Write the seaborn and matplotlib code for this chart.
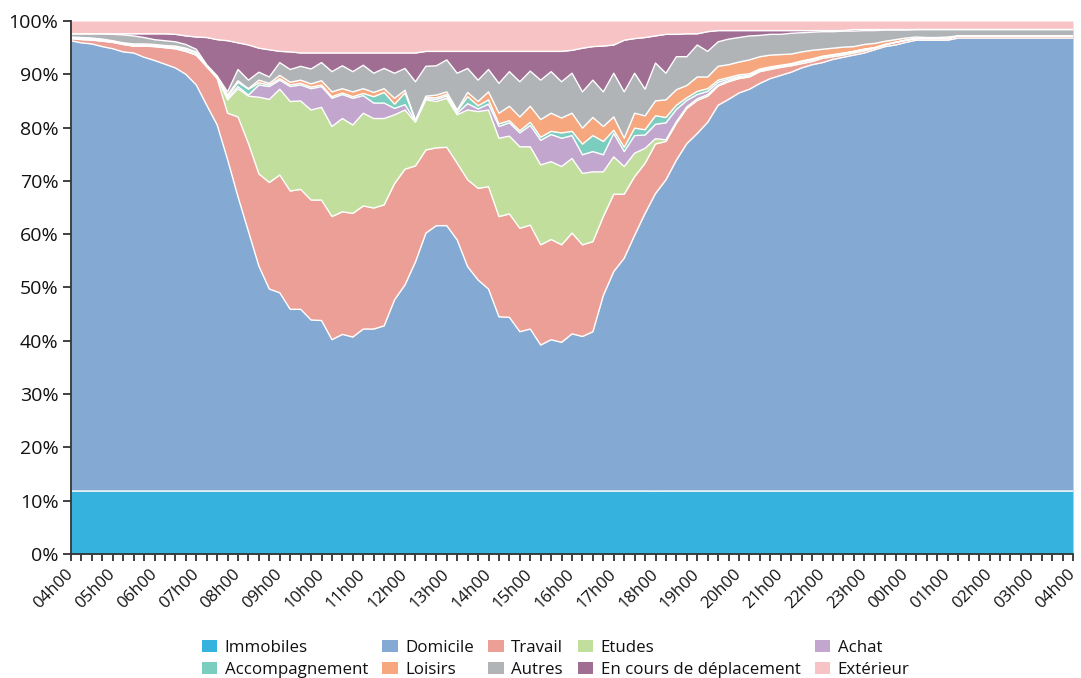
import numpy as np
import pandas as pd
import seaborn as sns
import matplotlib.pyplot as plt
from matplotlib.patches import Patch
from matplotlib.ticker import MultipleLocator

# x axis: one value every 15 minutes, from 04h00 to 04h00 the next day
hour_labels = [
    "04h00", "05h00", "06h00", "07h00", "08h00", "09h00", "10h00", "11h00",
    "12h00", "13h00", "14h00", "15h00", "16h00", "17h00", "18h00", "19h00",
    "20h00", "21h00", "22h00", "23h00", "00h00", "01h00", "02h00", "03h00", "04h00",
]

# shares in %, 97 quarter-hour slots
immobiles = [
    11.8, 11.8, 11.8, 11.8, 11.8, 11.8, 11.8, 11.8, 11.8, 11.8,
    11.8, 11.8, 11.8, 11.8, 11.8, 11.8, 11.8, 11.8, 11.8, 11.8,
    11.8, 11.8, 11.8, 11.8, 11.8, 11.8, 11.8, 11.8, 11.8, 11.8,
    11.8, 11.8, 11.8, 11.8, 11.8, 11.8, 11.8, 11.8, 11.8, 11.8,
    11.8, 11.8, 11.8, 11.8, 11.8, 11.8, 11.8, 11.8, 11.8, 11.8,
    11.8, 11.8, 11.8, 11.8, 11.8, 11.8, 11.8, 11.8, 11.8, 11.8,
    11.8, 11.8, 11.8, 11.8, 11.8, 11.8, 11.8, 11.8, 11.8, 11.8,
    11.8, 11.8, 11.8, 11.8, 11.8, 11.8, 11.8, 11.8, 11.8, 11.8,
    11.8, 11.8, 11.8, 11.8, 11.8, 11.8, 11.8, 11.8, 11.8, 11.8,
    11.8, 11.8, 11.8, 11.8, 11.8, 11.8, 11.8,
]
domicile = [
    84.5, 84.1, 83.9, 83.4, 83.0, 82.4, 82.2, 81.4, 80.8, 80.1,
    79.4, 78.2, 76.2, 72.4, 68.7, 62.2, 55.2, 48.7, 42.2, 37.9,
    37.2, 34.1, 34.1, 32.1, 32.0, 28.4, 29.4, 28.9, 30.4, 30.4,
    31.0, 35.9, 38.7, 43.0, 48.4, 49.8, 49.8, 47.1, 42.1, 39.6,
    37.9, 32.7, 32.6, 29.9, 30.4, 27.4, 28.4, 27.9, 29.5, 29.0,
    29.9, 36.7, 41.2, 43.7, 48.0, 52.1, 55.9, 58.4, 62.1, 65.2,
    67.1, 69.2, 72.4, 73.5, 74.7, 75.4, 76.5, 77.4, 78.0, 78.6,
    79.4, 80.0, 80.4, 81.0, 81.4, 81.8, 82.2, 82.8, 83.4, 83.7,
    84.2, 84.6, 84.6, 84.6, 84.6, 85.0, 85.0, 85.0, 85.0, 85.0,
    85.0, 85.0, 85.0, 85.0, 85.0, 85.0, 85.0,
]
travail = [
    0.4, 0.6, 0.7, 1.0, 1.2, 1.4, 1.3, 2.1, 2.6, 3.1,
    3.6, 4.3, 5.6, 7.2, 8.7, 8.7, 15.0, 16.5, 17.3, 20.0,
    22.1, 22.2, 22.5, 22.5, 22.6, 23.1, 23.0, 23.2, 23.1, 22.7,
    22.7, 21.8, 21.7, 18.0, 15.6, 14.6, 14.7, 14.4, 16.3, 17.2,
    19.2, 18.8, 19.4, 19.4, 19.5, 18.8, 18.8, 18.3, 18.9, 17.2,
    16.9, 14.8, 14.5, 12.0, 11.0, 9.4, 9.3, 7.2, 6.9, 6.6,
    6.2, 4.9, 3.6, 3.3, 2.7, 2.3, 2.2, 1.7, 1.5, 1.2,
    0.8, 0.6, 0.8, 0.5, 0.4, 0.4, 0.4, 0.3, 0.3, 0.5,
    0.4, 0.3, 0.3, 0.3, 0.3, 0.4, 0.4, 0.4, 0.4, 0.4,
    0.4, 0.4, 0.4, 0.4, 0.4, 0.4, 0.4,
]
etudes = [
    0.0, 0.1, 0.1, 0.1, 0.0, 0.0, 0.0, 0.0, 0.0, 0.0,
    0.0, 0.0, 0.0, 0.1, 0.2, 2.5, 5.3, 8.9, 14.4, 15.6,
    16.1, 16.8, 16.6, 16.9, 17.4, 16.9, 17.5, 16.6, 17.4, 16.8,
    16.2, 12.9, 11.1, 8.2, 9.4, 8.7, 9.2, 9.1, 13.1, 14.4,
    14.4, 14.7, 14.6, 15.3, 14.7, 15.0, 14.6, 14.7, 14.0, 13.4,
    13.1, 8.4, 7.0, 5.2, 4.4, 2.8, 1.0, 0.3, 0.3, 0.3,
    0.3, 0.3, 0.2, 0.2, 0.2, 0.2, 0.2, 0.2, 0.2, 0.2,
    0.3, 0.3, 0.3, 0.3, 0.3, 0.3, 0.3, 0.1, 0.1, 0.0,
    0.0, 0.0, 0.0, 0.0, 0.0, 0.0, 0.0, 0.0, 0.0, 0.0,
    0.0, 0.0, 0.0, 0.0, 0.0, 0.0, 0.0,
]
achat = [
    0.1, 0.1, 0.1, 0.1, 0.1, 0.1, 0.1, 0.1, 0.1, 0.1,
    0.1, 0.1, 0.1, 0.0, 0.0, 0.3, 0.4, 0.2, 2.3, 2.4,
    1.7, 2.8, 3.0, 4.0, 3.9, 5.3, 4.5, 5.0, 3.3, 2.9,
    2.9, 1.2, 1.0, 0.2, 0.2, 0.4, 0.4, 0.3, 1.2, 0.5,
    1.1, 2.2, 2.5, 2.6, 4.0, 4.6, 5.1, 5.3, 4.3, 3.5,
    3.8, 3.2, 4.4, 2.8, 3.3, 2.5, 2.7, 3.2, 2.3, 1.2,
    0.8, 0.6, 0.5, 0.3, 0.2, 0.1, 0.1, 0.1, 0.1, 0.1,
    0.1, 0.1, 0.0, 0.0, 0.0, 0.0, 0.0, 0.0, 0.0, 0.0,
    0.0, 0.0, 0.0, 0.0, 0.0, 0.0, 0.0, 0.0, 0.0, 0.0,
    0.0, 0.0, 0.0, 0.0, 0.0, 0.0, 0.0,
]
accompagnement = [
    0.1, 0.1, 0.1, 0.1, 0.1, 0.1, 0.1, 0.1, 0.1, 0.1,
    0.2, 0.3, 0.3, 0.1, 0.1, 0.3, 0.8, 1.1, 0.4, 0.3,
    0.3, 0.3, 0.3, 0.3, 0.3, 0.3, 0.3, 0.3, 0.4, 1.2,
    2.0, 0.8, 2.2, 0.1, 0.2, 0.3, 0.3, 0.4, 1.3, 0.6,
    0.8, 0.5, 0.4, 0.4, 0.6, 0.6, 0.6, 1.0, 0.8, 2.0,
    3.0, 2.5, 0.6, 0.8, 1.4, 1.0, 1.6, 1.0, 0.8, 0.5,
    0.6, 0.5, 0.4, 0.3, 0.3, 0.3, 0.2, 0.2, 0.1, 0.1,
    0.1, 0.1, 0.1, 0.1, 0.1, 0.0, 0.0, 0.0, 0.0, 0.0,
    0.0, 0.0, 0.0, 0.0, 0.0, 0.0, 0.0, 0.0, 0.0, 0.0,
    0.0, 0.0, 0.0, 0.0, 0.0, 0.0, 0.0,
]
loisirs = [
    0.1, 0.1, 0.1, 0.1, 0.1, 0.1, 0.2, 0.2, 0.2, 0.2,
    0.2, 0.2, 0.2, 0.0, 0.0, 0.3, 0.3, 0.1, 0.5, 0.3,
    0.6, 0.5, 0.6, 0.6, 0.8, 0.9, 0.8, 0.9, 0.9, 0.8,
    0.7, 1.1, 0.5, 0.1, 0.3, 0.5, 0.5, 0.2, 0.8, 0.8,
    1.5, 2.0, 2.7, 2.6, 3.0, 3.3, 3.4, 2.8, 3.4, 3.0,
    3.4, 2.8, 2.5, 1.7, 2.8, 2.6, 2.8, 3.3, 2.9, 2.3,
    2.7, 2.2, 2.6, 2.4, 2.4, 2.6, 2.3, 2.2, 2.0, 1.8,
    1.7, 1.6, 1.3, 1.2, 1.1, 0.9, 0.9, 0.8, 0.6, 0.5,
    0.4, 0.3, 0.2, 0.2, 0.3, 0.0, 0.0, 0.0, 0.0, 0.0,
    0.0, 0.0, 0.0, 0.0, 0.0, 0.0, 0.0,
]
autres = [
    0.6, 0.7, 0.8, 1.0, 1.2, 1.5, 1.5, 1.2, 0.9, 0.9,
    0.8, 0.7, 0.5, 0.2, 0.2, 0.6, 2.1, 1.6, 1.5, 1.2,
    2.4, 2.4, 2.6, 2.8, 3.4, 3.8, 4.3, 3.8, 4.4, 3.6,
    3.8, 4.7, 4.1, 7.2, 5.6, 5.5, 6.0, 6.9, 4.5, 4.0,
    4.2, 5.6, 6.5, 6.6, 6.6, 7.4, 7.8, 6.8, 7.5, 6.8,
    7.0, 6.5, 8.2, 8.7, 7.5, 5.0, 7.1, 5.0, 6.2, 5.4,
    6.0, 4.8, 4.6, 4.8, 4.6, 4.5, 4.0, 3.9, 3.8, 3.9,
    3.6, 3.4, 3.3, 3.1, 3.0, 2.9, 2.6, 2.4, 2.1, 1.8,
    1.5, 1.4, 1.5, 1.5, 1.4, 1.2, 1.2, 1.2, 1.2, 1.2,
    1.2, 1.2, 1.2, 1.2, 1.2, 1.2, 1.2,
]
deplacement = [
    0.0, 0.0, 0.0, 0.0, 0.1, 0.2, 0.4, 0.7, 1.1, 1.3,
    1.4, 1.6, 2.3, 5.1, 6.8, 9.6, 5.0, 6.6, 4.5, 5.1,
    2.1, 3.3, 2.5, 3.0, 1.8, 3.5, 2.4, 3.5, 2.3, 3.8,
    2.9, 3.8, 2.9, 5.4, 2.8, 2.7, 1.6, 4.1, 3.2, 5.4,
    3.4, 6.0, 3.8, 5.7, 3.7, 5.4, 3.8, 5.7, 4.3, 8.2,
    6.3, 8.6, 5.3, 9.7, 6.5, 9.7, 5.1, 7.3, 4.2, 4.3,
    2.1, 3.7, 2.1, 1.6, 1.3, 1.0, 0.9, 0.7, 0.7, 0.5,
    0.4, 0.3, 0.2, 0.2, 0.1, 0.3, 0.2, 0.2, 0.1, 0.1,
    0.1, 0.0, 0.0, 0.0, 0.0, 0.0, 0.0, 0.0, 0.0, 0.0,
    0.0, 0.0, 0.0, 0.0, 0.0, 0.0, 0.0,
]
exterieur = [
    2.4, 2.4, 2.4, 2.4, 2.4, 2.4, 2.4, 2.4, 2.4, 2.4,
    2.5, 2.8, 3.0, 3.1, 3.5, 3.7, 4.1, 4.5, 5.1, 5.4,
    5.7, 5.8, 6.0, 6.0, 6.0, 6.0, 6.0, 6.0, 6.0, 6.0,
    6.0, 6.0, 6.0, 6.0, 5.7, 5.7, 5.7, 5.7, 5.7, 5.7,
    5.7, 5.7, 5.7, 5.7, 5.7, 5.7, 5.7, 5.7, 5.5, 5.1,
    4.8, 4.7, 4.5, 3.6, 3.3, 3.1, 2.8, 2.5, 2.5, 2.4,
    2.4, 2.0, 1.8, 1.8, 1.8, 1.8, 1.8, 1.8, 1.8, 1.8,
    1.8, 1.8, 1.8, 1.8, 1.8, 1.6, 1.6, 1.6, 1.6, 1.6,
    1.6, 1.6, 1.6, 1.6, 1.6, 1.6, 1.6, 1.6, 1.6, 1.6,
    1.6, 1.6, 1.6, 1.6, 1.6, 1.6, 1.6,
]

series = {
    "Immobiles": immobiles,
    "Domicile": domicile,
    "Travail": travail,
    "Etudes": etudes,
    "Achat": achat,
    "Accompagnement": accompagnement,
    "Loisirs": loisirs,
    "Autres": autres,
    "En cours de déplacement": deplacement,
    "Extérieur": exterieur,
}
colors = {
    "Immobiles": "#35b3de",
    "Domicile": "#84a9d3",
    "Travail": "#eb9f96",
    "Etudes": "#c2de9c",
    "Achat": "#c3a6ce",
    "Accompagnement": "#7bcdbf",
    "Loisirs": "#f7a77e",
    "Autres": "#b1b4b6",
    "En cours de déplacement": "#a06d93",
    "Extérieur": "#f7c3c5",
}

df = pd.DataFrame(series)
# 100 % stacked
df = df.div(df.sum(axis=1), axis=0) * 100
x = np.arange(len(df))

sns.set_theme(style="ticks")
plt.rcParams["font.family"] = ["Open Sans", "DejaVu Sans"]

fig, ax = plt.subplots(figsize=(10.81, 6.78), dpi=100)
fig.subplots_adjust(left=0.0657, right=0.9926, top=0.969, bottom=0.183)

ax.stackplot(x, df.T.values, colors=[colors[c] for c in df.columns], linewidth=0)

# white separation lines between the layers
tops = df.cumsum(axis=1)
for col in df.columns[:-1]:
    sns.lineplot(x=x, y=tops[col].values, ax=ax, color="white", linewidth=1.0, legend=False)

ax.set_xlim(0, len(df) - 1)
ax.set_ylim(0, 100)
ax.set_xticks(np.arange(0, len(df), 4))
ax.set_xticklabels(hour_labels, rotation=45, ha="right", va="center",
                   rotation_mode="anchor", fontsize=12)
ax.xaxis.set_minor_locator(MultipleLocator(1))
ax.set_yticks(range(0, 101, 10))
ax.set_yticklabels([f"{v}%" for v in range(0, 101, 10)], fontsize=14)
ax.tick_params(axis="x", which="both", length=5, width=1.3, color="#333333", pad=8)
ax.tick_params(axis="y", length=6, width=1.3, color="#333333", pad=3)
ax.tick_params(labelcolor="#111111")
ax.set_xlabel("")
ax.set_ylabel("")

sns.despine(ax=ax)
for side in ["left", "bottom"]:
    ax.spines[side].set_linewidth(1.3)
    ax.spines[side].set_color("#333333")

# legend filled row by row (matplotlib fills columns, so reorder)
names = list(df.columns)
order = [0, 5, 1, 6, 2, 7, 3, 8, 4, 9]
handles = [Patch(facecolor=colors[names[i]], edgecolor="none") for i in order]
labels = [names[i] for i in order]
fig.legend(handles, labels, loc="lower center", bbox_to_anchor=(0.514, -0.022),
           ncol=5, frameon=False, fontsize=12.2, handlelength=0.9, handleheight=0.75,
           handletextpad=0.45, columnspacing=0.85, labelspacing=0.32,
           labelcolor="#111111")

fig.savefig("out.png", dpi=100, facecolor="white")
